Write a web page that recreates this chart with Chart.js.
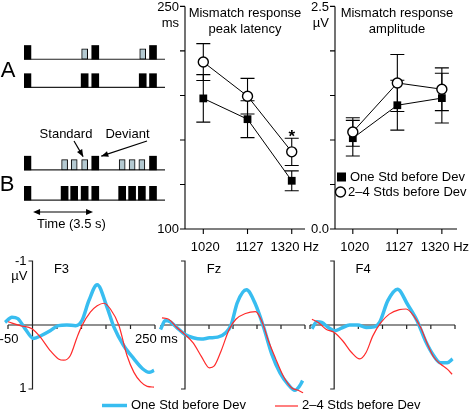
<!DOCTYPE html>
<html>
<head>
<meta charset="utf-8">
<script src="https://cdn.jsdelivr.net/npm/chart.js@4.4.0/dist/chart.umd.min.js"></script>
<style>
  html, body { margin: 0; padding: 0; background: #fff; }
  #wrap { position: relative; width: 469px; height: 414px; overflow: hidden; }
  #wrap canvas { position: absolute; left: 0; top: 0; }
</style>
</head>
<body>
<div id="wrap">
  <canvas id="seqChart" width="469" height="414"></canvas>
  <canvas id="latChart" width="469" height="414"></canvas>
  <canvas id="ampChart" width="469" height="414"></canvas>
  <canvas id="f3Chart" width="469" height="414"></canvas>
  <canvas id="fzChart" width="469" height="414"></canvas>
  <canvas id="f4Chart" width="469" height="414"></canvas>
</div>
<script>
// --- stimulus sequences (onset in s, D = deviant, S = standard)
const seqAOnsets = [0.2, 3.54, 4.16, 6.93, 7.53];
const seqATypes = ['D', 'S', 'D', 'S', 'D'];
const seqBOnsets = [0.2, 2.37, 2.93, 3.54, 4.16, 5.73, 6.31, 6.88, 7.53];
const seqBTypes = ['D', 'S', 'S', 'S', 'D', 'S', 'S', 'S', 'D'];

// --- mismatch response summary
const freqLabels = ['1020', '1127', '1320'];
const latencyOne = [188, 174, 132.5];
const latencyOneErr = [16, 12.4, 6.7];
const latencyMulti = [212.5, 189.5, 152];
const latencyMultiErr = [12.4, 12, 9.2];
const ampOne = [1.02, 1.39, 1.47];
const ampOneErr = [0.2, 0.28, 0.28];
const ampMulti = [1.09, 1.64, 1.57];
const ampMultiErr = [0.16, 0.32, 0.24];

// --- waveforms [ms, µV]
const f3One = [[-56,-0.04],[-42,-0.12],[-30,-0.10],[-15,0.06],[2,0.21],[19,0.16],[36,0.09],[53,0.01],[70,0],[88,0.01],[101,-0.07],[115,-0.38],[132,-0.63],[152,-0.28],[166,0.03],[186,0.32],[207,0.53],[224,0.68],[238,0.74],[248,0.71]];
const f3Multi = [[-50,-0.05],[-25,0.01],[-1,0.06],[16,0.19],[36,0.40],[53,0.53],[64,0.55],[77,0.48],[91,0.19],[101,0.01],[118,-0.20],[132,-0.30],[146,-0.34],[159,-0.25],[176,0.0],[193,0.48],[207,0.74],[221,0.89],[234,0.96],[248,0.97]];
const fzOne = [[-51,0.07],[-41,-0.07],[-31,-0.05],[-17,0.04],[0,0.15],[17,0.20],[34,0.22],[51,0.20],[68,0.19],[85,0.12],[96,0],[109,-0.35],[128,-0.55],[147,-0.32],[164,0.04],[181,0.46],[198,0.75],[215,0.93],[229,1.02],[239,0.95],[245,0.87]];
const fzMulti = [[-48,-0.11],[-34,-0.09],[-17,0.04],[0,0.15],[17,0.28],[34,0.49],[51,0.67],[61,0.64],[75,0.41],[92,0.07],[106,-0.09],[126,-0.18],[147,-0.21],[160,-0.06],[174,0.25],[188,0.51],[205,0.80],[222,0.98],[236,1.02],[246,1.06]];
const f4One = [[-46,0.06],[-36,-0.05],[-26,-0.04],[-12,0.04],[1,0.09],[15,0.05],[32,0],[49,0],[66,0.04],[83,0.03],[94,-0.04],[111,-0.38],[131,-0.56],[152,-0.32],[172,-0.06],[189,0.25],[206,0.48],[220,0.59],[234,0.59],[245,0.53]];
const f4Multi = [[-46,-0.09],[-33,-0.04],[-16,0.07],[1,0.12],[18,0.25],[36,0.43],[53,0.53],[66,0.43],[80,0.17],[97,-0.04],[114,-0.17],[135,-0.24],[149,-0.25],[165,-0.14],[179,0.04],[193,0.30],[206,0.50],[220,0.61],[234,0.69],[244,0.77]];
const erpTicks = [-50, 0, 50, 100, 150, 200, 250];

const W = 469, H = 414;
const FONT = '"Liberation Sans", Arial, Helvetica, sans-serif';
const BLUE = '#38bdf0';
const RED = '#ff2b2b';
const GRAY_STD = '#b3c9d1';

// chart area given in page pixels
function area(left, top, right, bottom) {
    return { padding: { left: left, top: top, right: W - right, bottom: H - bottom } };
}

function text(ctx, s, x, y, align, size, weight) {
    ctx.font = (weight || 'normal') + ' ' + (size || 13) + 'px ' + FONT;
    ctx.textAlign = align || 'center';
    ctx.textBaseline = 'middle';
    ctx.fillStyle = '#000';
    ctx.fillText(s, x, y);
}

function arrowHead(ctx, x0, y0, x1, y1) {
    const a = Math.atan2(y1 - y0, x1 - x0), len = 7, hw = 3;
    ctx.beginPath();
    ctx.moveTo(x1, y1);
    ctx.lineTo(x1 - len * Math.cos(a) + hw * Math.sin(a), y1 - len * Math.sin(a) - hw * Math.cos(a));
    ctx.lineTo(x1 - len * Math.cos(a) - hw * Math.sin(a), y1 - len * Math.sin(a) + hw * Math.cos(a));
    ctx.closePath();
    ctx.fill();
}

function makeChart(id, config) {
    config.options = Object.assign({
        responsive: false,
        animation: false,
        events: [],
        devicePixelRatio: 1
    }, config.options);
    return new Chart(document.getElementById(id), config);
}

// ---------------- stimulus schematic
const rowBase = { A1: 10.6, A2: 8.55, B1: 2.55, B2: 0.36 };

function pulses(onsets, types, base, keep, allBlack) {
    const out = [];
    onsets.forEach((t, i) => {
        const isDev = allBlack || types[i] === 'D';
        if ((keep === 'D') === isDev) {
            out.push({ x: t, y: [base, base + (isDev ? 1 : 0.75)] });
        }
    });
    return out;
}

function pulseSet(data, dev) {
    return {
        data: data,
        grouped: false,
        barThickness: dev ? 7 : 6,
        backgroundColor: dev ? '#000' : GRAY_STD,
        borderColor: '#000',
        borderWidth: dev ? 0 : 1,
        borderSkipped: false
    };
}

const seqDecor = {
    id: 'seqDecor',
    beforeDatasetsDraw(chart) {
        const { ctx, scales: { x, y } } = chart;
        ctx.save();
        ctx.strokeStyle = '#222';
        ctx.lineWidth = 1.2;
        Object.values(rowBase).forEach(b => {
            const py = y.getPixelForValue(b);
            ctx.beginPath();
            ctx.moveTo(x.getPixelForValue(0), py);
            ctx.lineTo(x.right, py);
            ctx.stroke();
        });
        ctx.restore();
    },
    afterDatasetsDraw(chart) {
        const { ctx, scales: { x, y } } = chart;
        ctx.save();
        text(ctx, 'A', 8, 71, 'center', 22);
        text(ctx, 'B', 7, 185, 'center', 22);
        text(ctx, 'Standard', 66, 134.5);
        text(ctx, 'Deviant', 127.5, 134.5);

        ctx.strokeStyle = '#000';
        ctx.fillStyle = '#000';
        ctx.lineWidth = 1.2;
        const stdTip = [x.getPixelForValue(seqBOnsets[3]) - 1.5, y.getPixelForValue(rowBase.B1 + 0.75) - 3];
        const devTip = [x.getPixelForValue(seqBOnsets[4]) + 6, y.getPixelForValue(rowBase.B1 + 1)];
        [[74, 141, stdTip], [147, 141, devTip]].forEach(([sx, sy, tip]) => {
            ctx.beginPath();
            ctx.moveTo(sx, sy);
            ctx.lineTo(tip[0], tip[1]);
            ctx.stroke();
            arrowHead(ctx, sx, sy, tip[0], tip[1]);
        });

        // 3.5 s span
        const t0 = x.getPixelForValue(0.53), t1 = x.getPixelForValue(0.53 + 3.5), ty = 212;
        ctx.beginPath();
        ctx.moveTo(t0 + 3, ty);
        ctx.lineTo(t1 - 3, ty);
        ctx.stroke();
        arrowHead(ctx, t1, ty, t0, ty);
        arrowHead(ctx, t0, ty, t1, ty);
        text(ctx, 'Time (3.5 s)', 37, 224.5, 'left');
        ctx.restore();
    }
};

makeChart('seqChart', {
    type: 'bar',
    data: {
        datasets: [
            pulseSet(pulses(seqAOnsets, seqATypes, rowBase.A1, 'D'), true),
            pulseSet(pulses(seqAOnsets, seqATypes, rowBase.A1, 'S'), false),
            pulseSet(pulses(seqAOnsets, seqATypes, rowBase.A2, 'D', true), true),
            pulseSet(pulses(seqBOnsets, seqBTypes, rowBase.B1, 'D'), true),
            pulseSet(pulses(seqBOnsets, seqBTypes, rowBase.B1, 'S'), false),
            pulseSet(pulses(seqBOnsets, seqBTypes, rowBase.B2, 'D', true), true)
        ]
    },
    options: {
        layout: area(24, 40, 165, 205),
        plugins: { legend: { display: false }, tooltip: { enabled: false } },
        scales: {
            x: { type: 'linear', min: 0, max: 8.23, offset: false, display: false },
            y: { type: 'linear', min: 0, max: 12, display: false }
        }
    },
    plugins: [seqDecor]
});

// ---------------- latency / amplitude panels
const panelAxes = {
    id: 'panelAxes',
    beforeDatasetsDraw(chart, args, o) {
        const { ctx, chartArea: a, scales: { x, y } } = chart;
        ctx.save();
        ctx.strokeStyle = '#000';
        ctx.lineWidth = 1.1;
        ctx.beginPath();
        ctx.moveTo(a.left, a.top);
        ctx.lineTo(a.left, a.bottom);
        ctx.lineTo(a.right, a.bottom);
        o.yTicks.forEach(v => {
            const py = y.getPixelForValue(v);
            ctx.moveTo(a.left - 5, py);
            ctx.lineTo(a.left, py);
        });
        freqLabels.forEach((f, i) => {
            const px = x.getPixelForValue(i);
            ctx.moveTo(px, a.bottom);
            ctx.lineTo(px, a.bottom + 5);
        });
        ctx.stroke();

        // error bars
        ctx.lineWidth = 1.1;
        o.errors.forEach((errs, d) => {
            const vals = chart.data.datasets[d].data;
            errs.forEach((e, i) => {
                const px = x.getPixelForValue(vals[i].x);
                const hi = y.getPixelForValue(vals[i].y + e);
                const lo = y.getPixelForValue(vals[i].y - e);
                ctx.beginPath();
                ctx.moveTo(px, hi); ctx.lineTo(px, lo);
                ctx.moveTo(px - 7, hi); ctx.lineTo(px + 7, hi);
                ctx.moveTo(px - 7, lo); ctx.lineTo(px + 7, lo);
                ctx.stroke();
            });
        });

        const ty = a.bottom + 18;
        freqLabels.forEach((f, i) => {
            const px = x.getPixelForValue(i);
            if (i === freqLabels.length - 1) {
                text(ctx, f + ' Hz', px + 3, ty);
            } else {
                text(ctx, f, px + 2, ty);
            }
        });
        text(ctx, o.topLabel, a.left - 6, y.getPixelForValue(y.max) + 1, 'right');
        text(ctx, o.unit, a.left - 6, a.top + 17, 'right');
        text(ctx, o.bottomLabel, a.left - 6, a.bottom, 'right');
        const cx = (a.left + a.right) / 2 + o.titleShift;
        text(ctx, o.title[0], cx, 13);
        text(ctx, o.title[1], cx, 29);
        ctx.restore();
    },
    afterDatasetsDraw(chart, args, o) {
        const { ctx } = chart;
        ctx.save();
        (o.extra || (() => {}))(ctx, chart);
        ctx.restore();
    }
};

function summarySets(one, multi) {
    return [
        {
            label: '2–4 Stds before Dev',
            data: multi.map((v, i) => ({ x: i, y: v })),
            borderColor: '#000',
            borderWidth: 1,
            pointStyle: 'circle',
            pointRadius: 5,
            pointBackgroundColor: '#fff',
            pointBorderColor: '#000',
            pointBorderWidth: 1.4,
            clip: false
        },
        {
            label: 'One Std before Dev',
            data: one.map((v, i) => ({ x: i, y: v })),
            borderColor: '#000',
            borderWidth: 1,
            pointStyle: 'rect',
            pointRadius: 5.5,
            pointBackgroundColor: '#000',
            pointBorderColor: '#000',
            pointBorderWidth: 0,
            clip: false
        }
    ];
}

makeChart('latChart', {
    type: 'line',
    data: { datasets: summarySets(latencyOne, latencyMulti) },
    options: {
        layout: area(185, 6, 305, 229),
        plugins: {
            legend: { display: false },
            tooltip: { enabled: false },
            panelAxes: {
                yTicks: [250, 220, 190, 160, 130, 100],
                errors: [latencyMultiErr, latencyOneErr],
                topLabel: '250', unit: 'ms', bottomLabel: '100',
                title: ['Mismatch response', 'peak latency'],
                titleShift: 0,
                extra(ctx, chart) {
                    const { x, y } = chart.scales;
                    text(ctx, '*', x.getPixelForValue(2), y.getPixelForValue(latencyMulti[2] + latencyMultiErr[2]) - 1, 'center', 17, 'bold');
                }
            }
        },
        scales: {
            x: { type: 'linear', min: -0.414, max: 2.30, display: false },
            y: { type: 'linear', min: 100, max: 250, display: false }
        }
    },
    plugins: [panelAxes]
});

makeChart('ampChart', {
    type: 'line',
    data: { datasets: summarySets(ampOne, ampMulti) },
    options: {
        layout: area(335, 6, 457, 229),
        plugins: {
            legend: { display: false },
            tooltip: { enabled: false },
            panelAxes: {
                yTicks: [2.5, 2.0, 1.5, 1.0, 0.5, 0.0],
                errors: [ampMultiErr, ampOneErr],
                topLabel: '2.5', unit: 'µV', bottomLabel: '0.0',
                title: ['Mismatch response', 'amplitude'],
                titleShift: 1,
                extra(ctx) {
                    ctx.fillStyle = '#000';
                    ctx.fillRect(337, 172.5, 9, 9);
                    text(ctx, 'One Std before Dev', 350, 177.5, 'left');
                    ctx.beginPath();
                    ctx.arc(340.5, 192, 5, 0, Math.PI * 2);
                    ctx.fillStyle = '#fff';
                    ctx.fill();
                    ctx.strokeStyle = '#000';
                    ctx.lineWidth = 1.4;
                    ctx.stroke();
                    text(ctx, '2–4 Stds before Dev', 348, 192, 'left');
                }
            }
        },
        scales: {
            x: { type: 'linear', min: -0.40, max: 2.34, display: false },
            y: { type: 'linear', min: 0, max: 2.5, display: false }
        }
    },
    plugins: [panelAxes]
});

// ---------------- waveforms
const erpAxes = {
    id: 'erpAxes',
    beforeDatasetsDraw(chart, args, o) {
        const { ctx, scales: { x, y } } = chart;
        const x0 = x.getPixelForValue(0), y0 = y.getPixelForValue(0);
        const yTop = y.getPixelForValue(-1), yBot = y.getPixelForValue(1);
        ctx.save();
        ctx.strokeStyle = '#222';
        ctx.lineWidth = 1.2;
        ctx.beginPath();
        ctx.moveTo(x.getPixelForValue(-50), y0);
        ctx.lineTo(x.getPixelForValue(250), y0);
        erpTicks.forEach(t => {
            const px = x.getPixelForValue(t);
            ctx.moveTo(px, y0);
            ctx.lineTo(px, y0 + 4);
        });
        ctx.moveTo(x0 - 4, yTop);
        ctx.lineTo(x0, yTop);
        ctx.lineTo(x0, yBot);
        ctx.lineTo(x0 - 4, yBot);
        ctx.stroke();

        text(ctx, o.name, x0 + 29, yTop + 8);
        if (o.labels) {
            text(ctx, '-1', x0 - 6, yTop, 'right');
            text(ctx, 'µV', x0 - 5, yTop + 15, 'right');
            text(ctx, '1', x0 - 6, yBot - 1, 'right');
            text(ctx, '-50', x.getPixelForValue(-50) + 1, y0 + 14);
            text(ctx, '250 ms', x.getPixelForValue(250) - 20, y0 + 14, 'left');
        }
        ctx.restore();
    },
    afterDatasetsDraw(chart, args, o) {
        if (!o.legend) return;
        const { ctx } = chart;
        ctx.save();
        ctx.lineCap = 'butt';
        ctx.strokeStyle = BLUE;
        ctx.lineWidth = 3.5;
        ctx.beginPath(); ctx.moveTo(102, 405.5); ctx.lineTo(127, 405.5); ctx.stroke();
        text(ctx, 'One Std before Dev', 131, 405.5, 'left');
        ctx.strokeStyle = RED;
        ctx.lineWidth = 1.2;
        ctx.beginPath(); ctx.moveTo(275, 406); ctx.lineTo(298, 406); ctx.stroke();
        text(ctx, '2–4 Stds before Dev', 302, 405.5, 'left');
        ctx.restore();
    }
};

function erpChart(id, name, one, multi, left, right, labels, legend) {
    const line = (pts, color, width) => ({
        data: pts.map(p => ({ x: p[0], y: p[1] })),
        borderColor: color,
        borderWidth: width,
        pointRadius: 0,
        cubicInterpolationMode: 'monotone',
        clip: false
    });
    makeChart(id, {
        type: 'line',
        data: { datasets: [line(multi, RED, 1.2), line(one, BLUE, 3.5)] },
        options: {
            layout: area(left, 261, right, 389),
            plugins: {
                legend: { display: false },
                tooltip: { enabled: false },
                erpAxes: { name: name, labels: labels, legend: legend }
            },
            scales: {
                x: { type: 'linear', min: -50, max: 250, display: false },
                y: { type: 'linear', min: -1, max: 1, reverse: true, display: false }
            }
        },
        plugins: [erpAxes]
    });
}

erpChart('f3Chart', 'F3', f3One, f3Multi, 8, 155, true, false);
erpChart('fzChart', 'Fz', fzOne, fzMulti, 161, 305, false, true);
erpChart('f4Chart', 'F4', f4One, f4Multi, 310, 455, false, false);
</script>
</body>
</html>
